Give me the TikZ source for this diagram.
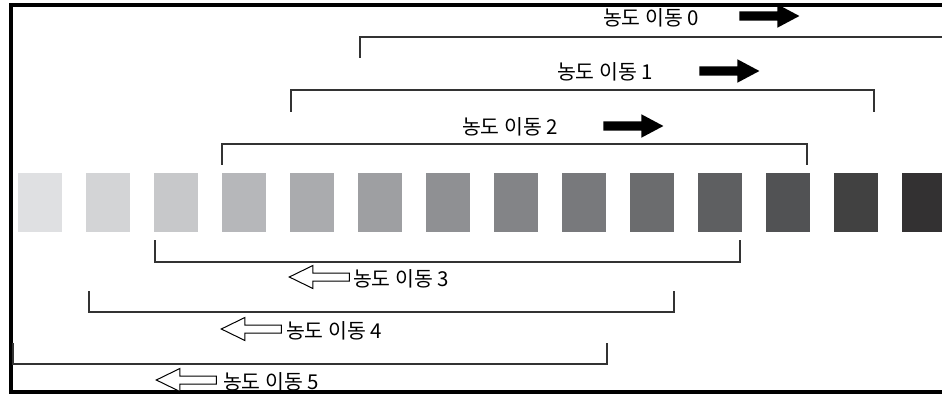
\documentclass[tikz,border=0pt]{standalone}
\usepackage{fontspec}
\newfontfamily\kofont{Noto Sans CJK KR}
\usetikzlibrary{calc, positioning, shapes.arrows}

\definecolor{shade01}{HTML}{DFE0E2}
\definecolor{shade02}{HTML}{D3D4D6}
\definecolor{shade03}{HTML}{C7C8CA}
\definecolor{shade04}{HTML}{B6B7BA}
\definecolor{shade05}{HTML}{AAABAE}
\definecolor{shade06}{HTML}{9E9FA2}
\definecolor{shade07}{HTML}{8F9093}
\definecolor{shade08}{HTML}{838487}
\definecolor{shade09}{HTML}{78797C}
\definecolor{shade10}{HTML}{6B6C6E}
\definecolor{shade11}{HTML}{5E5F61}
\definecolor{shade12}{HTML}{515254}
\definecolor{shade13}{HTML}{414141}
\definecolor{shade14}{HTML}{333132}

\tikzset{
    my-swatch/.style={
        shape=rectangle, minimum width=44pt, minimum height=59pt, inner sep=0pt
    },
    my-bracket/.style={
        draw=black!80, line width=1.6pt
    },
    my-label/.style={
        font=\kofont\fontsize{20.5}{24}\selectfont, inner sep=0pt
    },
    my-shift-right/.style={
        single arrow, fill=black, minimum height=60pt, minimum width=23pt,
        inner xsep=0pt, inner ysep=4.5pt, single arrow head extend=7pt, single arrow tip angle=56
    },
    my-shift-left/.style={
        single arrow, draw=black, fill=white, line width=1pt, shape border rotate=180,
        minimum height=60pt, minimum width=23pt,
        inner xsep=0pt, inner ysep=3.5pt, single arrow head extend=7.5pt, single arrow tip angle=52
    },
}

\begin{document}
\begin{tikzpicture}[x=1pt, y=-1pt]

        \useasboundingbox (0,0) rectangle (942,396);

        % FRAME (OPEN ON THE RIGHT)
        \draw[line width=3.4pt] (942,5) -- (10.8,5) -- (10.8,392) -- (942,392);

        % GREY SWATCHES ----------------------------------------------------------------------------
        \node[my-swatch, fill=shade01] (SW1)  at (40, 202.5)           {};
        \node[my-swatch, fill=shade02] (SW2)  at ($(SW1)  + (68, 0)$)  {};
        \node[my-swatch, fill=shade03] (SW3)  at ($(SW2)  + (68, 0)$)  {};
        \node[my-swatch, fill=shade04] (SW4)  at ($(SW3)  + (68, 0)$)  {};
        \node[my-swatch, fill=shade05] (SW5)  at ($(SW4)  + (68, 0)$)  {};
        \node[my-swatch, fill=shade06] (SW6)  at ($(SW5)  + (68, 0)$)  {};
        \node[my-swatch, fill=shade07] (SW7)  at ($(SW6)  + (68, 0)$)  {};
        \node[my-swatch, fill=shade08] (SW8)  at ($(SW7)  + (68, 0)$)  {};
        \node[my-swatch, fill=shade09] (SW9)  at ($(SW8)  + (68, 0)$)  {};
        \node[my-swatch, fill=shade10] (SW10) at ($(SW9)  + (68, 0)$)  {};
        \node[my-swatch, fill=shade11] (SW11) at ($(SW10) + (68, 0)$)  {};
        \node[my-swatch, fill=shade12] (SW12) at ($(SW11) + (68, 0)$)  {};
        \node[my-swatch, fill=shade13] (SW13) at ($(SW12) + (68, 0)$)  {};
        \node[my-swatch, fill=shade14] (SW14) at ($(SW13) + (68, 0)$)  {};

        % UPPER BRACKETS ---------------------------------------------------------------------------
        \draw[my-bracket] ($(SW6.north west)  + (2, -115)$) -- ($(SW6.north west)  + (2, -136)$)
                       -- ($(SW14.north east) + (4, -136)$);
        \draw[my-bracket] ($(SW5.north west)  + (1, -61)$)  -- ($(SW5.north west)  + (1, -83)$)
                       -- ($(SW13.north east) + (-4, -83)$) -- ($(SW13.north east) + (-4, -61)$);
        \draw[my-bracket] ($(SW4.north west)  + (0, -8)$)   -- ($(SW4.north west)  + (0, -29)$)
                       -- ($(SW12.north east) + (-3, -29)$) -- ($(SW12.north east) + (-3, -8)$);

        % LOWER BRACKETS ---------------------------------------------------------------------------
        \draw[my-bracket] ($(SW3.south west)  + (1, 8)$)    -- ($(SW3.south west)  + (1, 30)$)
                       -- ($(SW11.south east) + (-2, 30)$) -- ($(SW11.south east) + (-2, 8)$);
        \draw[my-bracket] ($(SW2.south west)  + (3, 59)$)   -- ($(SW2.south west)  + (3, 80)$)
                       -- ($(SW10.south east) + (0, 80)$)  -- ($(SW10.south east) + (0, 59)$);
        \draw[my-bracket] ($(SW1.south west)  + (-5, 111)$) -- ($(SW1.south west)  + (-5, 132)$)
                       -- ($(SW9.south east)  + (1, 132)$)  -- ($(SW9.south east)  + (1, 111)$);

        % LABELS AND SHIFT ARROWS ------------------------------------------------------------------
        \node[my-label] (SHIFT0) at (651, 18)  {농도 이동 0};
        \node[my-label] (SHIFT1) at (605, 72)  {농도 이동 1};
        \node[my-label] (SHIFT2) at (510, 127) {농도 이동 2};
        \node[my-label] (SHIFT3) at (401, 279) {농도 이동 3};
        \node[my-label] (SHIFT4) at (334, 331) {농도 이동 4};
        \node[my-label] (SHIFT5) at (271, 382) {농도 이동 5};

        \node[my-shift-right, right=40pt of SHIFT0, yshift=2pt] (ARROW0) {};
        \node[my-shift-right, right=46pt of SHIFT1, yshift=1pt] (ARROW1) {};
        \node[my-shift-right, right=45pt of SHIFT2, yshift=1pt] (ARROW2) {};
        \node[my-shift-left,  left=3pt of SHIFT3,  yshift=2pt] (ARROW3) {};
        \node[my-shift-left,  left=4pt of SHIFT4,  yshift=2pt] (ARROW4) {};
        \node[my-shift-left,  left=6pt of SHIFT5,  yshift=2pt] (ARROW5) {};

\end{tikzpicture}
\end{document}
